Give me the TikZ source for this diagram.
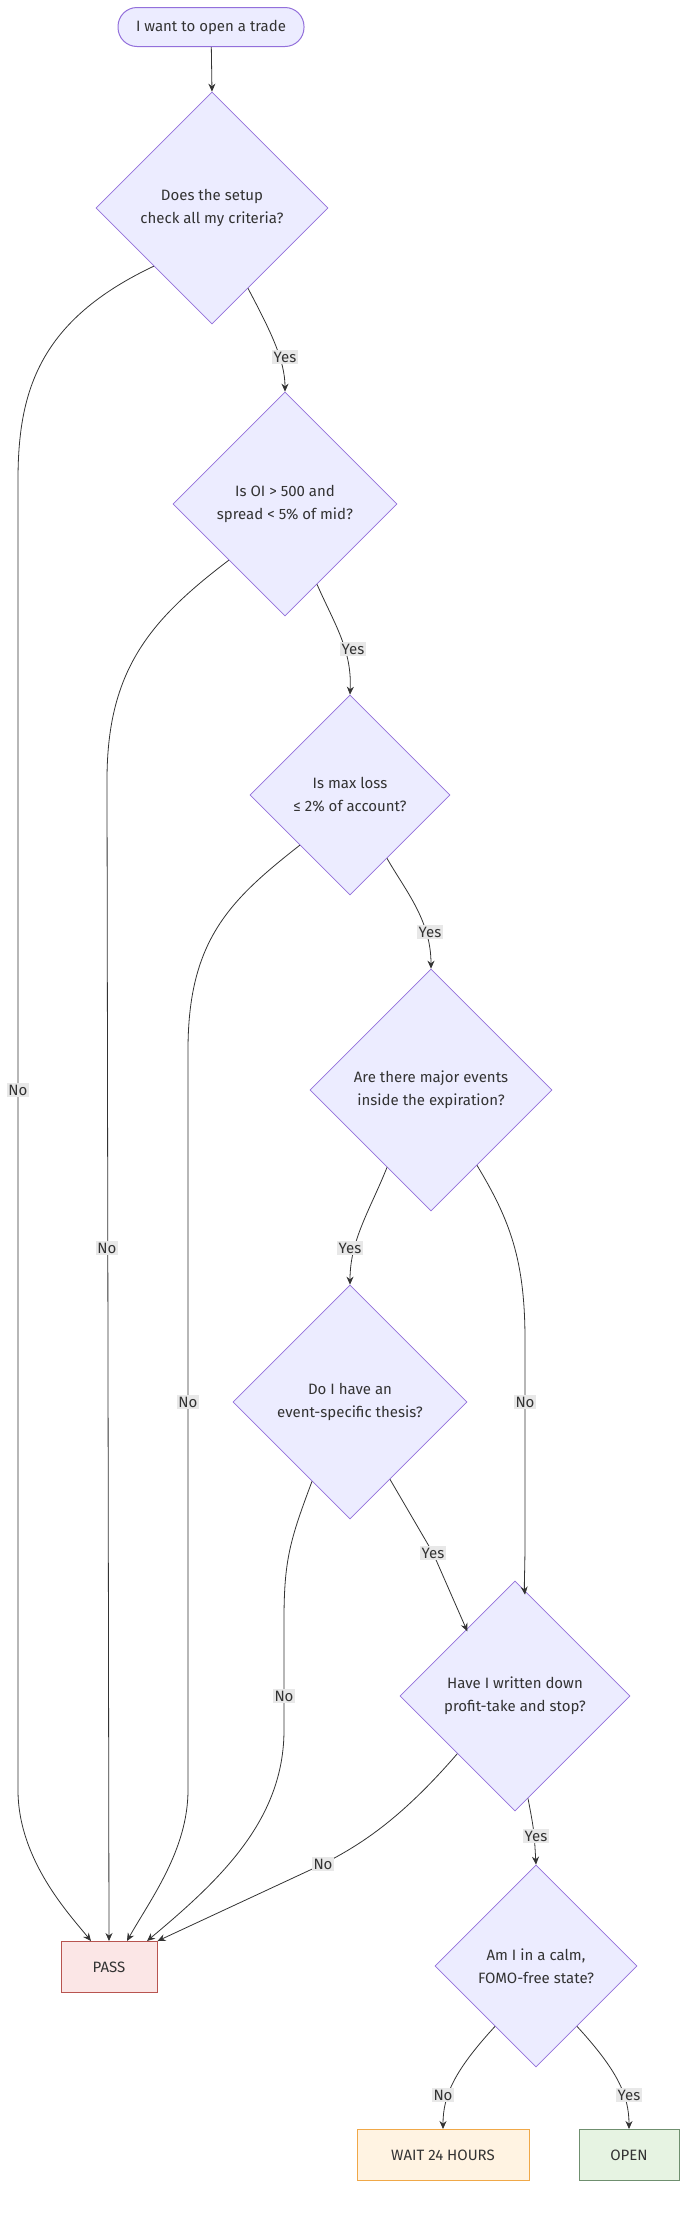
\documentclass[tikz,border=0pt]{standalone}
\usepackage{fontspec}
\setmainfont{Fira Sans}
\usetikzlibrary{shapes.geometric,arrows.meta}
\definecolor{dfill}{HTML}{ECECFF}
\definecolor{dline}{HTML}{9370DB}
\definecolor{ink}{HTML}{333333}
\definecolor{lbg}{HTML}{E8E8E8}
\definecolor{pfill}{HTML}{FBE6E6}
\definecolor{pline}{HTML}{B85450}
\definecolor{wfill}{HTML}{FFF3E2}
\definecolor{wline}{HTML}{F0A848}
\definecolor{ofill}{HTML}{E6F3E2}
\definecolor{oline}{HTML}{6F8F6F}
\begin{document}
\begin{tikzpicture}[x=1pt,y=-1pt,
  every node/.style={font=\fontsize{15}{23}\selectfont,text=ink},
  dia/.style={diamond,aspect=1,draw=dline,fill=dfill,line width=0.7pt,inner sep=0pt,align=center},
  box/.style={rectangle,minimum height=51pt,line width=1pt,align=center},
  lab/.style={fill=lbg,inner sep=1.5pt},
  edge/.style={draw=ink,line width=0.8pt,-{Stealth[length=8pt,width=7pt]}}]
\useasboundingbox (0,0) rectangle (683,2236);
\node[draw=dline,fill=dfill,rounded corners=19pt,minimum width=186pt,minimum height=39pt,line width=1pt] (s) at (211,27) {I want to open a trade};
\node[dia,minimum size=232pt] (d1) at (212,208) {Does the setup\\check all my criteria?};
\node[dia,minimum size=224pt] (d2) at (285,504) {Is OI > 500 and\\spread < 5\% of mid?};
\node[dia,minimum size=200pt] (d3) at (350,795) {Is max loss\\≤ 2\% of account?};
\node[dia,minimum size=242pt] (d4) at (431,1090) {Are there major events\\inside the expiration?};
\node[dia,minimum size=234pt] (d5) at (350,1402) {Do I have an\\event-specific thesis?};
\node[dia,minimum size=230pt] (d6) at (515,1696) {Have I written down\\profit-take and stop?};
\node[dia,minimum size=202pt] (d7) at (536,1966) {Am I in a calm,\\FOMO-free state?};
\node[box,draw=pline,fill=pfill,minimum width=96pt] (pass) at (109,1967) {PASS};
\node[box,draw=wline,fill=wfill,minimum width=172pt] (wait) at (443,2155) {WAIT 24 HOURS};
\node[box,draw=oline,fill=ofill,minimum width=100pt] (open) at (629,2155) {OPEN};

\draw[edge] (s) -- (d1.north);
\draw[edge] (d1.south west) .. controls (40,320) and (18,390) .. (18,480) -- (18,1790) .. controls (18,1860) and (70,1915) .. ([xshift=-18pt]pass.north);
\draw[edge] (d2.south west) .. controls (150,620) and (107,670) .. (107,780) -- (pass.north);
\draw[edge] (d3.south west) .. controls (230,900) and (188,940) .. (188,1050) -- (188,1790) .. controls (188,1850) and (150,1900) .. ([xshift=18pt]pass.north);
\draw[edge] ([xshift=-38pt,yshift=38pt]d5.south) .. controls (290,1540) and (284,1560) .. (284,1620) -- (284,1730) .. controls (284,1820) and (220,1880) .. ([xshift=38pt]pass.north);
\draw[edge] (d6.south west) .. controls (400,1820) and (360,1845) .. (323,1864) -- (pass.north east);
\draw[edge] ([xshift=46pt,yshift=46pt]d4.south) .. controls (510,1220) and (525,1260) .. (525,1340) -- (525,1540) .. controls (525,1570) and (524,1585) .. ([xshift=10pt,yshift=-14pt]d6.north);
\draw[edge] ([xshift=40pt,yshift=40pt]d5.south) -- (433,1553) -- ([xshift=10pt,yshift=7pt]d6.north west);
\draw[edge] ([xshift=36pt,yshift=36pt]d1.south) .. controls (270,330) and (285,360) .. (d2.north);
\draw[edge] ([xshift=32pt,yshift=32pt]d2.south) .. controls (335,625) and (352,650) .. (d3.north);
\draw[edge] ([xshift=37pt,yshift=37pt]d3.south) .. controls (405,890) and (431,920) .. (d4.north);
\draw[edge] ([xshift=-44pt,yshift=44pt]d4.south) .. controls (370,1210) and (350,1240) .. (d5.north);
\draw[edge] ([xshift=13pt,yshift=13pt]d6.south) .. controls (534,1830) .. (d7.north);
\draw[edge] ([xshift=-41pt,yshift=41pt]d7.south) .. controls (455,2070) and (443,2095) .. (wait.north);
\draw[edge] ([xshift=41pt,yshift=41pt]d7.south) .. controls (617,2070) and (629,2095) .. (open.north);

\node[lab] (l1) at (18,1090) {No};
\node[lab] (l2) at (107,1248) {No};
\node[lab] (l3) at (188,1402) {No};
\node[lab] (l4) at (284,1696) {No};
\node[lab] (l5) at (323,1864) {No};
\node[lab] (l6) at (525,1402) {No};
\node[lab] (l7) at (285,357) {Yes};
\node[lab] (l8) at (353,649) {Yes};
\node[lab] (l9) at (430,932) {Yes};
\node[lab] (l10) at (350,1248) {Yes};
\node[lab] (l11) at (433,1553) {Yes};
\node[lab] (l12) at (536,1836) {Yes};
\node[lab] (l13) at (443,2095) {No};
\node[lab] (l14) at (629,2095) {Yes};
\end{tikzpicture}
\end{document}
